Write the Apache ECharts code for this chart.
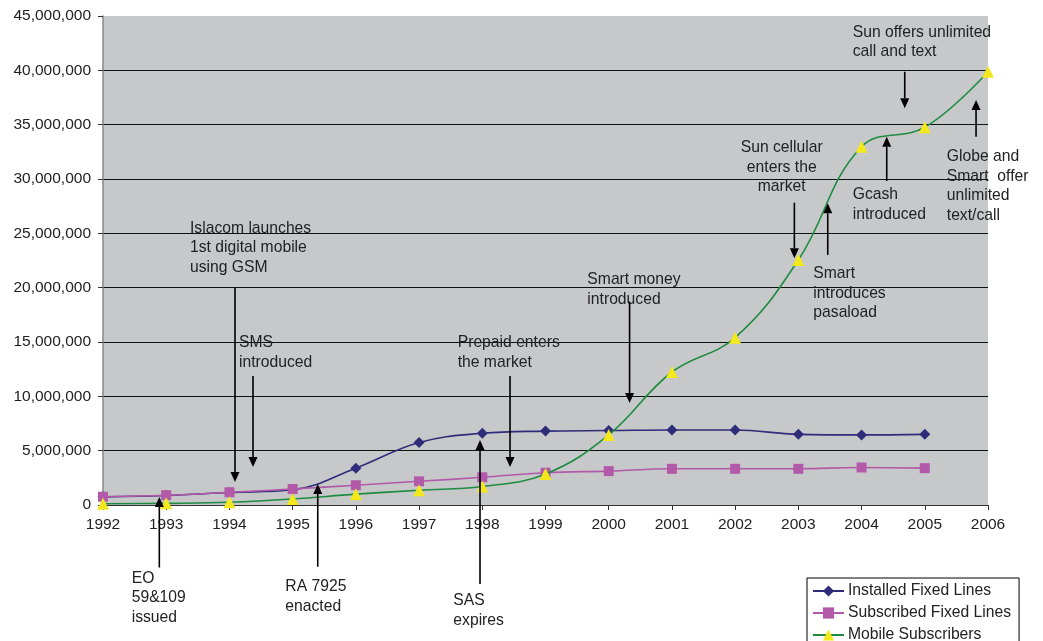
<!DOCTYPE html>
<html>
<head>
<meta charset="utf-8">
<script src="https://cdn.jsdelivr.net/npm/echarts@6/dist/echarts.min.js"></script>
<style>
html,body{margin:0;padding:0;background:#fff;}
#c{width:1043px;height:641px;}
</style>
</head>
<body>
<div id="c"></div>
<script>
// ---- data ----
const years = [1992,1993,1994,1995,1996,1997,1998,1999,2000,2001,2002,2003,2004,2005,2006];
const installedFixed = [750000, 880000, 1150000, 1400000, 3390000, 5750000, 6600000, 6800000, 6850000, 6900000, 6900000, 6500000, 6450000, 6500000];
const subscribedFixed = [760000, 900000, 1170000, 1470000, 1820000, 2180000, 2550000, 2970000, 3120000, 3330000, 3330000, 3330000, 3450000, 3390000];
const mobileSubs = [110000, 150000, 250000, 550000, 1000000, 1360000, 1700000, 2850000, 6450000, 12240000, 15400000, 22550000, 32970000, 34760000, 39870000];
const seriesNames = ['Installed Fixed Lines', 'Subscribed Fixed Lines', 'Mobile Subscribers'];
const yTicks = {min: 0, max: 45000000, interval: 5000000};

// annotations in data coordinates: [year, value]
const notes = [
  {lines: ['Islacom launches', '1st digital mobile', 'using GSM'], at: [1993.376, 26360000], from: [1994.088, 20060000], to: [1994.088, 2120000]},
  {lines: ['SMS', 'introduced'], at: [1994.152, 15830000], from: [1994.373, 11870000], to: [1994.373, 3500000]},
  {lines: ['Prepaid enters', 'the market'], at: [1997.611, 15830000], from: [1998.439, 11870000], to: [1998.439, 3500000]},
  {lines: ['Smart money', 'introduced'], at: [1999.662, 21630000], from: [2000.330, 18720000], to: [2000.330, 9390000]},
  {lines: ['EO', '59&109', 'issued'], at: [1992.454, -5840000], from: [1992.891, -5750000], to: [1992.891, 740000]},
  {lines: ['RA 7925', 'enacted'], at: [1994.884, -6630000], from: [1995.397, -5680000], to: [1995.397, 1930000]},
  {lines: ['SAS', 'expires'], at: [1997.542, -7910000], from: [1997.964, -7270000], to: [1997.964, 5980000]},
  {lines: ['Sun offers unlimited', 'call and text'], at: [2003.860, 44400000], from: [2004.683, 39870000], to: [2004.683, 36510000]},
  {lines: ['Sun cellular', 'enters the', 'market'], at: [2002.737, 33770000], align: 'center', from: [2002.937, 27820000], to: [2002.937, 22700000]},
  {lines: ['Smart', 'introduces', 'pasaload'], at: [2003.237, 22150000], from: [2003.465, 23010000], to: [2003.465, 27760000]},
  {lines: ['Gcash', 'introduced'], at: [2003.860, 29420000], from: [2004.398, 29820000], to: [2004.398, 33890000]},
  {lines: ['Globe and', 'Smart  offer', 'unlimited', 'text/call'], at: [2005.348, 32940000], from: [2005.811, 33890000], to: [2005.811, 37270000]}
];

function pairs(vals){ return vals.map((v,i)=>[years[i], v]); }
function fmt(v){ return String(v).replace(/\B(?=(\d{3})+(?!\d))/g, ','); }

const FONT = '"Liberation Sans", Arial, sans-serif';
const chart = echarts.init(document.getElementById('c'), null, {renderer: 'canvas'});

chart.setOption({
  animation: false,
  backgroundColor: '#ffffff',
  textStyle: {fontFamily: FONT},
  grid: {left: 103, right: 55, top: 16, bottom: 136, show: true, backgroundColor: '#c7c8ca', borderWidth: 0},
  legend: {
    orient: 'vertical', left: 807, top: 578, height: 120,
    backgroundColor: '#ffffff', borderColor: '#000', borderWidth: 1,
    padding: [5, 8, 5, 5], itemGap: 6, itemWidth: 31, itemHeight: 14,
    textStyle: {fontSize: 15.7, color: '#222', fontFamily: FONT, padding: [0,0,0,-1]},
    data: seriesNames
  },
  xAxis: {
    type: 'value', min: years[0], max: years[years.length-1], interval: 1,
    axisLine: {show: true, onZero: false, lineStyle: {color: '#333', width: 1}},
    axisTick: {show: true, length: 5, lineStyle: {color: '#333'}},
    axisLabel: {fontSize: 15.5, color: '#222', margin: 12, formatter: v => String(v)},
    splitLine: {show: false}
  },
  yAxis: {
    type: 'value', min: yTicks.min, max: yTicks.max, interval: yTicks.interval,
    axisLine: {show: true, lineStyle: {color: '#888', width: 1.5}},
    axisTick: {show: true, length: 5, lineStyle: {color: '#333'}},
    axisLabel: {fontSize: 15.5, color: '#222', margin: 12, formatter: v => fmt(v)},
    splitLine: {show: true, showMinLine: false, showMaxLine: false, lineStyle: {color: '#111', width: 1.2}}
  },
  series: [
    {name: seriesNames[0], type: 'line', data: pairs(installedFixed), smooth: 0.4,
     symbol: 'diamond', symbolSize: 11, z: 3,
     lineStyle: {color: '#2f2c7a', width: 1.6}, itemStyle: {color: '#2f2c7a'}},
    {name: seriesNames[1], type: 'line', data: pairs(subscribedFixed), smooth: 0.4,
     symbol: 'rect', symbolSize: 10, z: 4,
     lineStyle: {color: '#b25aa9', width: 1.6}, itemStyle: {color: '#b25aa9'}},
    {name: seriesNames[2], type: 'line', data: pairs(mobileSubs), smooth: 0.4,
     symbol: 'triangle', symbolSize: 12, z: 5,
     lineStyle: {color: '#1d8c40', width: 1.6}, itemStyle: {color: '#f2e81c'}}
  ]
});

// annotations placed through the chart's own scales
const g = [];
notes.forEach(n => {
  const p = chart.convertToPixel({gridIndex: 0}, n.at);
  g.push({type: 'text', z: 1, silent: true,
    style: {text: n.lines.join('\n'), x: p[0], y: p[1], fill: '#222',
      font: '15.7px ' + FONT, lineHeight: 19.5, align: n.align || 'left', verticalAlign: 'top'}});
  const a = chart.convertToPixel({gridIndex: 0}, n.from);
  const b = chart.convertToPixel({gridIndex: 0}, n.to);
  const dir = b[1] > a[1] ? 1 : -1;
  const headLen = 10, headHalf = 4.5;
  g.push({type: 'line', z: 10, silent: true,
    shape: {x1: a[0], y1: a[1], x2: b[0], y2: b[1] - dir*headLen},
    style: {stroke: '#000', lineWidth: 1.6}});
  g.push({type: 'polygon', z: 10, silent: true,
    shape: {points: [[b[0], b[1]], [b[0]-headHalf, b[1]-dir*headLen], [b[0]+headHalf, b[1]-dir*headLen]]},
    style: {fill: '#000'}});
});
chart.setOption({graphic: g});
</script>
</body>
</html>
